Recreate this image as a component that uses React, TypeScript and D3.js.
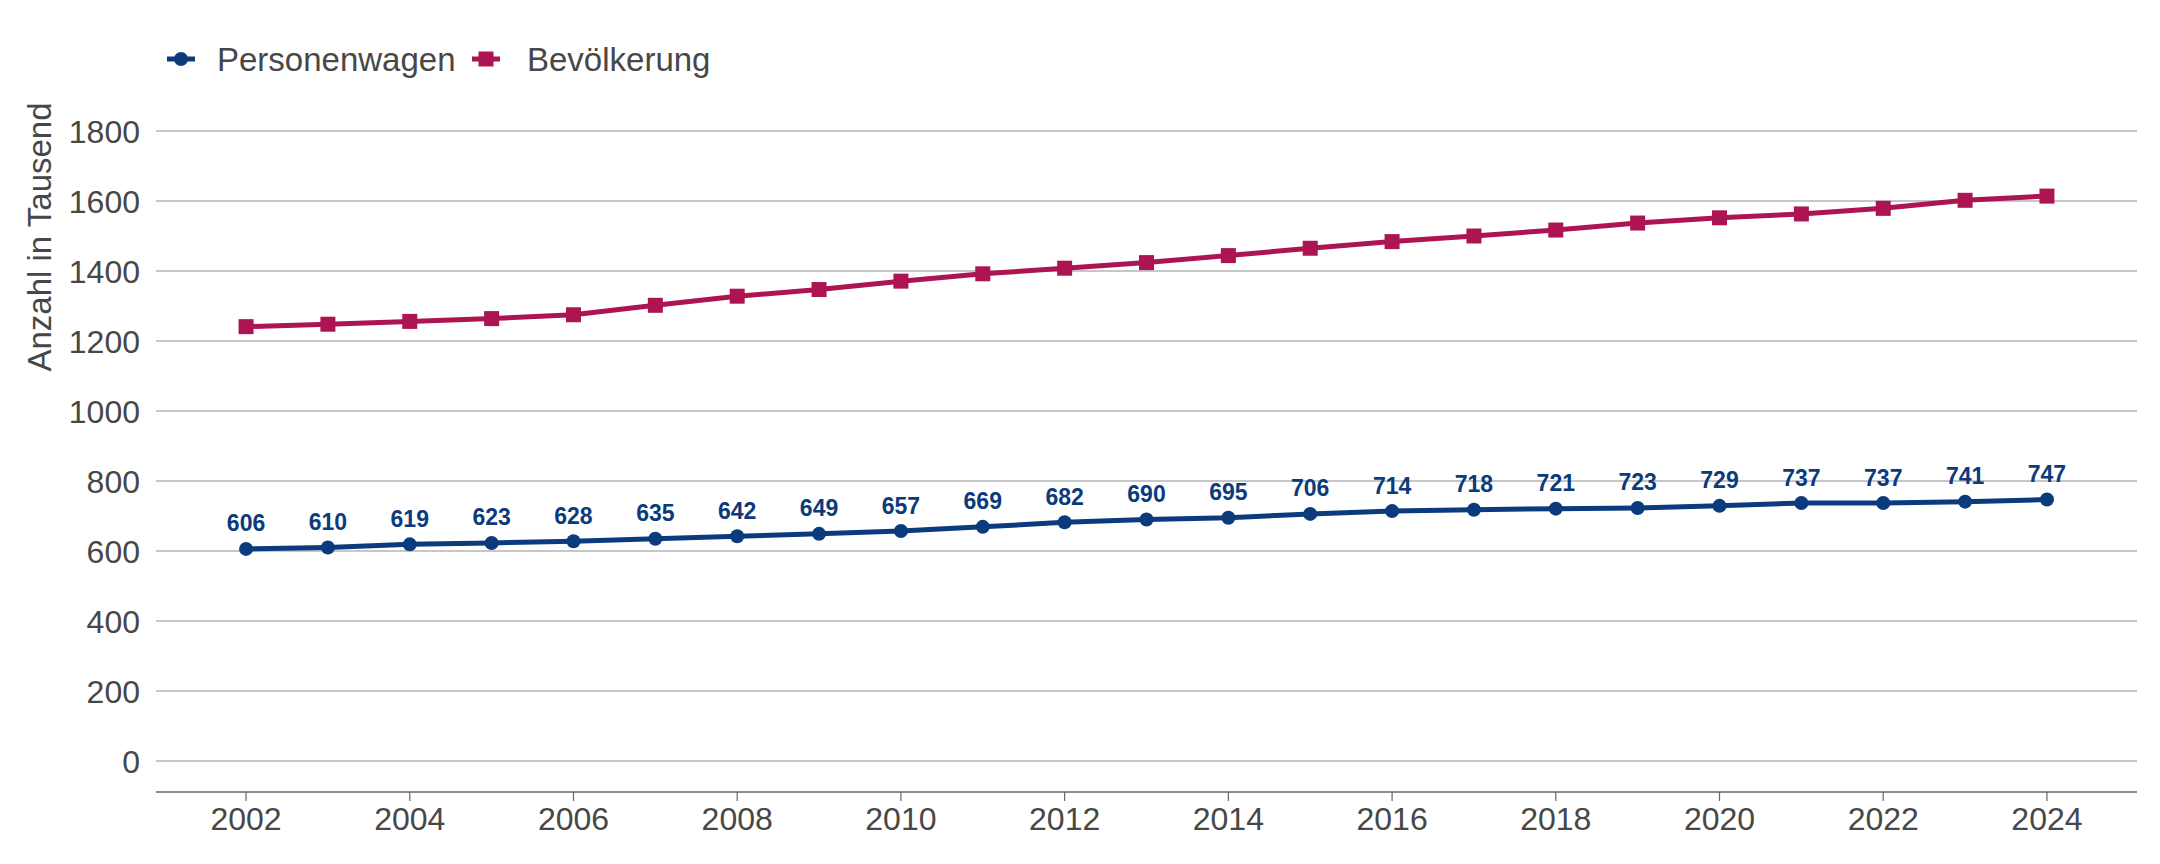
import * as d3 from "d3";
import React from "react";

const years = [
  2002, 2003, 2004, 2005, 2006, 2007, 2008, 2009, 2010, 2011, 2012, 2013,
  2014, 2015, 2016, 2017, 2018, 2019, 2020, 2021, 2022, 2023, 2024,
];
const personenwagen = [
  606, 610, 619, 623, 628, 635, 642, 649, 657, 669, 682, 690, 695, 706, 714,
  718, 721, 723, 729, 737, 737, 741, 747,
];
const bevoelkerung = [
  1241, 1248, 1256, 1264, 1275, 1302, 1328, 1347, 1371, 1392, 1408, 1424,
  1444, 1465, 1484, 1500, 1517, 1537, 1552, 1563, 1579, 1602, 1614,
];
const yTicks = [0, 200, 400, 600, 800, 1000, 1200, 1400, 1600, 1800];
const xTicks = [2002, 2004, 2006, 2008, 2010, 2012, 2014, 2016, 2018, 2020, 2022, 2024];

const WIDTH = 2160;
const HEIGHT = 864;
const BLUE = "#0b3b7c";
const RED = "#ad1452";
const TEXT = "#474747";
const FONT = "'Liberation Sans', Arial, Helvetica, sans-serif";

export default function App() {
  const x = d3.scaleLinear().domain([2002 - 1.1, 2024 + 1.1]).range([156, 2137]);
  const y = d3.scaleLinear().domain([0, 1800]).range([761, 131]);
  const axisY = 792;

  const line = d3
    .line<number>()
    .x((_, i) => x(years[i]))
    .y((d) => y(d));

  return (
    <div style={{ position: "absolute", left: 0, top: 0 }}>
      <svg width={WIDTH} height={HEIGHT} style={{ display: "block", background: "#fff" }} fontFamily={FONT}>
        {/* grid + y labels */}
        {yTicks.map((t) => (
          <g key={t}>
            <line x1={x.range()[0]} x2={x.range()[1]} y1={y(t)} y2={y(t)} stroke="#b5b5b5" strokeWidth={1.5} />
            <text x={140} y={y(t)} dy="0.36em" textAnchor="end" fontSize={32} fill={TEXT}>
              {t}
            </text>
          </g>
        ))}

        {/* x axis */}
        <line x1={x.range()[0]} x2={x.range()[1]} y1={axisY} y2={axisY} stroke="#666" strokeWidth={1.5} />
        {xTicks.map((t) => (
          <g key={t}>
            <line x1={x(t)} x2={x(t)} y1={axisY} y2={axisY + 9} stroke="#666" strokeWidth={1.2} />
            <text x={x(t)} y={830} textAnchor="middle" fontSize={32} fill={TEXT}>
              {t}
            </text>
          </g>
        ))}

        {/* y title */}
        <text transform={`translate(51,237) rotate(-90)`} textAnchor="middle" fontSize={33} fill={TEXT}>
          Anzahl in Tausend
        </text>

        {/* Bevölkerung */}
        <path d={line(bevoelkerung) || ""} fill="none" stroke={RED} strokeWidth={5} strokeLinejoin="round" />
        {bevoelkerung.map((v, i) => (
          <rect key={i} x={x(years[i]) - 7.5} y={y(v) - 7.5} width={15} height={15} fill={RED} />
        ))}

        {/* Personenwagen */}
        <path d={line(personenwagen) || ""} fill="none" stroke={BLUE} strokeWidth={5} strokeLinejoin="round" />
        {personenwagen.map((v, i) => (
          <circle key={i} cx={x(years[i])} cy={y(v)} r={7} fill={BLUE} />
        ))}
        {personenwagen.map((v, i) => (
          <text
            key={"l" + i}
            x={x(years[i])}
            y={y(v) - 17.5}
            textAnchor="middle"
            fontSize={23}
            fontWeight="bold"
            fill={BLUE}
          >
            {v}
          </text>
        ))}

        {/* legend */}
        <g transform="translate(167,59)">
          <line x1={0} x2={28} y1={0} y2={0} stroke={BLUE} strokeWidth={5} />
          <circle cx={14} cy={0} r={7} fill={BLUE} />
          <text x={50} y={11.5} fontSize={33} fill={TEXT}>
            Personenwagen
          </text>
          <line x1={305} x2={333} y1={0} y2={0} stroke={RED} strokeWidth={5} />
          <rect x={311.5} y={-7.5} width={15} height={15} fill={RED} />
          <text x={360} y={11.5} fontSize={33} fill={TEXT}>
            Bevölkerung
          </text>
        </g>
      </svg>
    </div>
  );
}
